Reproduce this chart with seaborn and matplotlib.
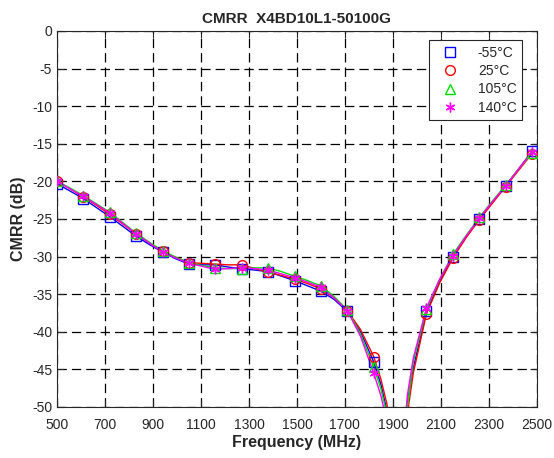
import matplotlib
matplotlib.use("Agg")
import matplotlib.pyplot as plt
import seaborn as sns
import pandas as pd

# Frequency grid (MHz) of the traced curves
freq = [500, 555, 610, 665, 720, 775, 830, 885, 940, 995,
        1050, 1105, 1160, 1215, 1270, 1325, 1380, 1435, 1490, 1545,
        1600, 1655, 1710, 1765, 1820, 1850, 1875, 1900, 1930, 1960,
        1985, 2040, 2095, 2150, 2205, 2260, 2315, 2370, 2425, 2480]

# Frequencies where markers are shown
marker_freq = [500, 610, 720, 830, 940, 1050, 1160, 1270, 1380, 1490,
               1600, 1710, 1820, 2040, 2150, 2260, 2370, 2480]

cmrr_m55 = [-20.3, -21.3, -22.3, -23.5, -24.7, -26.0, -27.3, -28.4, -29.4, -30.3,
            -31.0, -31.1, -31.1, -31.4, -31.6, -31.8, -32.0, -32.6, -33.2, -33.9,
            -34.6, -35.7, -37.3, -40.0, -44.0, -47.0, -50.5, -56.0, -60.0, -49.5,
            -44.8, -37.3, -33.3, -30.0, -27.4, -25.0, -22.8, -20.6, -18.3, -16.0]
cmrr_25 = [-20.0, -21.0, -22.1, -23.2, -24.4, -25.7, -27.0, -28.2, -29.3, -30.1,
           -30.8, -30.9, -31.0, -31.1, -31.1, -31.6, -32.1, -32.5, -33.0, -33.6,
           -34.3, -35.5, -37.2, -39.7, -43.3, -46.3, -49.6, -55.0, -62.0, -51.0,
           -45.5, -37.6, -33.5, -30.2, -27.5, -25.1, -22.9, -20.7, -18.5, -16.3]
cmrr_105 = [-20.0, -20.9, -21.9, -23.0, -24.1, -25.5, -26.9, -28.1, -29.2, -30.1,
            -30.8, -31.2, -31.5, -31.6, -31.6, -31.5, -31.5, -32.0, -32.6, -33.2,
            -33.9, -35.3, -37.1, -40.3, -44.7, -47.6, -51.0, -57.0, -60.0, -50.0,
            -44.0, -37.0, -33.0, -29.7, -27.2, -24.8, -22.6, -20.5, -18.3, -16.2]
cmrr_140 = [-20.0, -21.0, -22.0, -23.1, -24.2, -25.6, -27.0, -28.2, -29.4, -30.2,
            -30.9, -31.3, -31.7, -31.6, -31.5, -31.6, -31.8, -32.3, -32.8, -33.4,
            -34.1, -35.5, -37.2, -40.6, -45.5, -48.5, -52.0, -58.0, -60.0, -48.5,
            -43.5, -36.8, -33.0, -29.9, -27.3, -24.9, -22.7, -20.6, -18.3, -16.1]

labels = ["-55°C", "25°C", "105°C", "140°C"]
x_ticks = [500, 700, 900, 1100, 1300, 1500, 1700, 1900, 2100, 2300, 2500]
y_ticks = [0, -5, -10, -15, -20, -25, -30, -35, -40, -45, -50]

series = [cmrr_m55, cmrr_25, cmrr_105, cmrr_140]
colors = ["#0000ff", "#ff0000", "#00e000", "#ff00ff"]
markers = ["s", "o", "^", (6, 2, 0)]

sns.set_theme(style="white")
plt.rcParams["font.family"] = ["Liberation Sans", "DejaVu Sans"]

fig = plt.figure(figsize=(5.54, 4.58), dpi=100)
ax = fig.add_axes([0.103, 0.1114, 0.866, 0.821])

for vals, lab, col, mk in zip(series, labels, colors, markers):
    df = pd.DataFrame({"f": freq, "v": vals})
    sns.lineplot(data=df, x="f", y="v", ax=ax, color=col, lw=1.0,
                 sort=True, legend=False, zorder=3)
    dm = df[df["f"].isin(marker_freq)]
    sns.lineplot(data=dm, x="f", y="v", ax=ax, color=col, linestyle="",
                 marker=mk, markersize=7, markerfacecolor="none",
                 markeredgecolor=col, markeredgewidth=1.0, label=lab,
                 zorder=4)

ax.set_xlim(500, 2500)
ax.set_ylim(-50, 0)
ax.set_xticks(x_ticks)
ax.set_yticks(y_ticks)
ax.set_xticklabels([str(t) for t in x_ticks])
ax.set_yticklabels([str(t) for t in y_ticks])
ax.grid(True, color="black", linestyle=(0, (7.5, 4)), linewidth=0.9)
ax.set_axisbelow(True)
ax.tick_params(direction="in", length=5, width=0.8, top=True, right=True,
               bottom=True, left=True, labelsize=10, colors="#262626")
ax.tick_params(axis="x", pad=8)
ax.tick_params(axis="y", pad=3.5)
for s in ax.spines.values():
    s.set_color("#262626")
    s.set_linewidth(0.8)

ax.set_xlabel("Frequency (MHz)", fontsize=11.5, fontweight="bold", labelpad=2)
ax.set_ylabel("CMRR (dB)", fontsize=11.5, fontweight="bold", labelpad=4)
ax.set_title("CMRR  X4BD10L1-50100G", fontsize=11, fontweight="bold", pad=6)

leg = ax.legend(loc="upper right", bbox_to_anchor=(0.978, 0.987),
                fancybox=False, framealpha=1, edgecolor="#262626",
                fontsize=10, handlelength=2.2, handletextpad=0.9,
                borderpad=0.4, labelspacing=0.32, borderaxespad=0.3)
leg.get_frame().set_linewidth(0.8)

fig.savefig("out.png", dpi=100)
